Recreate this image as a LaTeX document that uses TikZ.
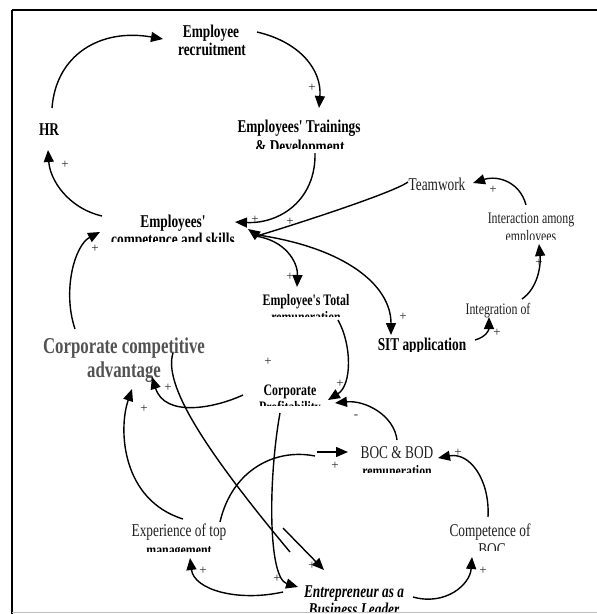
\documentclass[tikz,border=0pt]{standalone}
\usepackage{fontspec}
\setmainfont{Liberation Serif}
\newfontfamily\nserif[FakeStretch=0.74]{Liberation Serif}
\usetikzlibrary{arrows.meta}

% second text line of a label, of which only the upper part shows
\newcommand\cutline[6]{%
  \begin{scope}
    \clip (0,0) rectangle (597,#4);
    \node[#5] (#1) at (#2,#3) {#6};
  \end{scope}}

\tikzset{
  lbl/.style={inner sep=0pt, anchor=base},
  bigbold/.style={lbl, font=\nserif\bfseries\fontsize{18}{18}\selectfont},
  smallbold/.style={lbl, font=\nserif\bfseries\fontsize{16}{16}\selectfont},
  bigital/.style={lbl, font=\nserif\bfseries\itshape\fontsize{18}{18}\selectfont},
  bigreg/.style={lbl, text=black!88, font=\nserif\fontsize{18}{18}\selectfont},
  smallreg/.style={lbl, text=black!88, font=\nserif\fontsize{16}{16}\selectfont},
  headline/.style={lbl, text=black!68, font=\nserif\bfseries\fontsize{22.7}{22.7}\selectfont},
  sign/.style={inner sep=0pt, text=black!85, font=\fontsize{13}{13}\selectfont},
  plain/.style={line width=1.4pt},
  link/.style={plain, -{Triangle[length=12pt,width=10pt]}},
}

\begin{document}
\begin{tikzpicture}[x=1pt, y=-1pt]
\useasboundingbox (0,0) rectangle (597,614);

% frame
\draw[line width=2.5pt] (12,10) -- (597,10);
\draw[line width=2pt] (12,10) -- (12,614);
\draw[black!25, line width=1pt] (12,612) -- (597,612);

% labels
\node[bigbold] (rec) at (211,37) {Employee};
\node[bigbold] (rec-b) at (212,55) {recruitment};
\node[bigbold] (trn) at (299,132) {Employees' Trainings};
\cutline{trn-b}{300}{152}{148}{bigbold}{\& Development}
\node[bigbold] (hr) at (49,135) {HR};
\node[bigbold] (emp) at (173,227) {Employees'};
\cutline{emp-b}{173}{245}{241}{bigbold}{competence and skills}
\node[bigreg] (tw) at (437,190) {Teamwork};
\node[smallreg] (int) at (531,223) {Interaction among};
\cutline{int-b}{531}{241}{239}{smallreg}{employees}
\node[smallreg] (itg) at (498,314) {Integration of};
\node[smallbold] (tot) at (306,305) {Employee's Total};
\cutline{tot-b}{306}{322}{316}{smallbold}{remuneration}
\cutline{sit}{422}{350}{351}{bigbold}{SIT application}
\node[headline] (cca) at (124,353) {Corporate competitive};
\node[headline] (cca-b) at (124,377) {advantage};
\node[smallbold] (cp) at (290,395) {Corporate};
\cutline{cp-b}{290}{412}{405.5}{smallbold}{Profitability}
\node[bigreg] (boc) at (397,458) {BOC \& BOD};
\cutline{boc-b}{397}{476}{472}{smallbold}{remuneration}
\node[bigreg] (exp) at (179,536) {Experience of top};
\cutline{exp-b}{179}{555}{551}{smallbold}{management}
\node[bigreg] (cboc) at (490,536) {Competence of};
\cutline{cboc-b}{492}{555}{550}{bigreg}{BOC}
\node[bigital] (ent) at (354,597) {Entrepreneur as a};
\cutline{ent-b}{354}{615}{611}{bigital}{Business Leader}

% break points of the two interrupted links
\coordinate (bk1) at (315,456);
\coordinate (bk2) at (317,452);
\coordinate (bk3) at (290,552);
\coordinate (bk4) at (283,528);

% links
\draw[link] ([shift={(3,-27)}]hr.base) .. controls (56,55) and (100,28) .. ([shift={(-48,2)}]rec.base);
\draw[link] ([shift={(46,-5)}]rec.base) .. controls (300,42) and (322,70) .. ([shift={(20,-24)}]trn.base);
\draw[link] ([shift={(16,21)}]trn.base) .. controls (316,200) and (280,224) .. ([shift={(62,-5)}]emp.base);
\draw[link] ([shift={(-71,-11)}]emp.base) .. controls (68,208) and (50,180) .. ([shift={(-1,15)}]hr.base);
\draw[link] ([shift={(-29,-8)}]tw.base) .. controls (390,195) and (258,236) .. ([shift={(75,2)}]emp.base);
\draw[link] ([shift={(82,9)}]emp.base) .. controls (285,240) and (298,262) .. ([shift={(-9,-18)}]tot.base);
\draw[link] ([shift={(85,8)}]emp.base) .. controls (345,248) and (391,285) .. ([shift={(-31,-15)}]sit.base);
\draw[link] ([shift={(53,-10)}]sit.base) .. controls (486,337) and (489,330) .. ([shift={(-9,3)}]itg.base);
\draw[link] ([shift={(24,-15)}]itg.base) .. controls (538,288) and (541,265) .. ([shift={(8,21)}]int.base);
\draw[link] ([shift={(-5,-18)}]int.base) .. controls (520,182) and (498,175) .. ([shift={(36,-7)}]tw.base);
\draw[link] ([shift={(32,15)}]tot.base) .. controls (352,345) and (352,385) .. ([shift={(38,5)}]cp.base);
\draw[link] ([shift={(0,-18)}]boc.base) .. controls (394,415) and (365,400) .. ([shift={(45,8)}]cp.base);
\draw[link] ([shift={(-47,0)}]cp.base) .. controls (215,408) and (165,418) .. ([shift={(28,0)}]cca-b.base);
\draw[link] ([shift={(-49,-24)}]cca.base) .. controls (62,290) and (75,245) .. ([shift={(-73,5)}]emp.base);
\draw[link] ([shift={(4,-17)}]exp.base) .. controls (122,500) and (118,430) .. ([shift={(8,12)}]cca-b.base);
\draw[plain] ([shift={(41,-14)}]exp.base) .. controls (232,470) and (275,448) .. (bk1);
\draw[link] (bk2) -- ([shift={(-49,-6)}]boc.base);
\draw[plain] ([shift={(49,0)}]cca.base) .. controls (163,385) and (205,450) .. (bk3);
\draw[link] (bk4) -- ([shift={(-30,-27)}]ent.base);
\draw[link] ([shift={(-10,18)}]cp.base) .. controls (268,480) and (268,578) .. ([shift={(-56,-10)}]ent.base);
\draw[link] ([shift={(-71,-5)}]ent.base) .. controls (238,602) and (194,590) .. ([shift={(11,22)}]exp.base);
\draw[link] ([shift={(59,0)}]ent.base) .. controls (445,606) and (470,585) .. ([shift={(-18,21)}]cboc.base);
\draw[link] ([shift={(-2,-19)}]cboc.base) .. controls (490,480) and (470,452) .. ([shift={(41,0)}]boc.base);

% polarity signs
\node[sign] (s1) at (65,165) {+};
\node[sign] (s2) at (255,220) {+};
\node[sign] (s3) at (290,222) {+};
\node[sign] (s4) at (312,88) {+};
\node[sign] (s5) at (493,190) {+};
\node[sign] (s6) at (290,277) {+};
\node[sign] (s7) at (403,317) {+};
\node[sign] (s8) at (95,249) {+};
\node[sign] (s9) at (268,362) {+};
\node[sign] (s10) at (168,388) {+};
\node[sign] (s11) at (144,409) {+};
\node[sign] (s12) at (340,384) {+};
\node[sign] (s13) at (497,333) {+};
\node[sign] (s14) at (539,263) {+};
\node[sign] (s15) at (203,571) {+};
\node[sign] (s16) at (277,579) {+};
\node[sign] (s17) at (335,466) {+};
\node[sign] (s18) at (458,453) {+};
\node[sign] (s19) at (312,566) {+};
\node[sign] (s20) at (483,571) {+};
\node[sign] (s21) at (356,417) {-};
\end{tikzpicture}
\end{document}
